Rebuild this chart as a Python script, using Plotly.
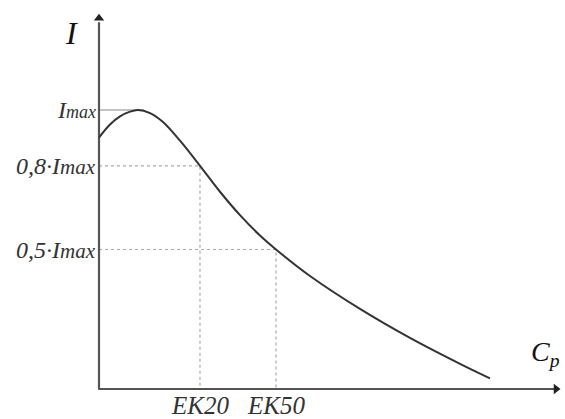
import plotly.graph_objects as go

# Curve data (x in arbitrary concentration units, y as fraction of Imax)
curve_x = [0.0, 0.11, 0.21, 0.31, 0.39, 0.51, 0.64, 0.81, 1.01, 1.21, 1.41, 1.61, 1.77, 2.11, 2.61, 3.11, 3.61, 3.91]
curve_y = [0.901, 0.948, 0.977, 0.994, 1.0, 0.989, 0.957, 0.890, 0.80, 0.707, 0.623, 0.550, 0.50, 0.405, 0.287, 0.183, 0.090, 0.038]

imax_x = 0.45
level_values = [1.0, 0.8, 0.5]
level_labels = ["I<span style='font-size:18px'>max</span>",
                "0,8·I<span style='font-size:21px'>max</span>",
                "0,5·I<span style='font-size:21px'>max</span>"]
ek_names = ["EK20", "EK50"]
ek_x = [1.01, 1.77]
ek_y = [0.8, 0.5]

W, H = 565, 419
x0_px, y0_px = 99, 389
xs, ys = 100.0, 279.0
x_range = [-x0_px / xs, (W - x0_px) / xs]
y_range = [-(H - y0_px) / ys, y0_px / ys]
x_end = (560 - x0_px) / xs
y_end = (y0_px - 14) / ys

FONT = "Liberation Serif, Times New Roman, serif"
axis_col = "#555555"
dot_col = "#aaaaaa"

fig = go.Figure()

# dotted guides
for ex, ey in zip(ek_x, ek_y):
    fig.add_trace(go.Scatter(x=[0, ex, ex], y=[ey, ey, 0], mode="lines",
                             line=dict(color=dot_col, width=1.2, dash="dot"),
                             hoverinfo="skip", showlegend=False))
# Imax line
fig.add_trace(go.Scatter(x=[0, imax_x], y=[1.0, 1.0], mode="lines",
                         line=dict(color="#888888", width=1.2),
                         hoverinfo="skip", showlegend=False))
# axes
fig.add_trace(go.Scatter(x=[0, x_end - 0.06], y=[0, 0], mode="lines",
                         line=dict(color=axis_col, width=2.2),
                         hoverinfo="skip", showlegend=False))
fig.add_trace(go.Scatter(x=[0, 0], y=[-0.003, y_end - 0.03], mode="lines",
                         line=dict(color=axis_col, width=2.2),
                         hoverinfo="skip", showlegend=False))
fig.add_trace(go.Scatter(x=[x_end - 0.04], y=[0], mode="markers",
                         marker=dict(symbol="triangle-right", size=9, color="#222222"),
                         hoverinfo="skip", showlegend=False))
fig.add_trace(go.Scatter(x=[0], y=[y_end - 0.015], mode="markers",
                         marker=dict(symbol="triangle-up", size=9, color="#222222"),
                         hoverinfo="skip", showlegend=False))
# curve
fig.add_trace(go.Scatter(x=curve_x, y=curve_y, mode="lines",
                         line=dict(color="#333333", width=2, shape="spline", smoothing=1.0),
                         hoverinfo="skip", showlegend=False))

annotations = []
annotations.append(dict(x=(71 - x0_px) / xs, y=(y0_px - 33) / ys, xref="x", yref="y",
                        text="<i>I</i>", showarrow=False,
                        font=dict(family=FONT, size=32, color="#111111")))
annotations.append(dict(x=(529 - x0_px) / xs, y=(y0_px - 353) / ys, xref="x", yref="y",
                        xanchor="left", text="<i>C<sub>p</sub></i>", showarrow=False,
                        font=dict(family=FONT, size=28, color="#111111")))
for v, lab in zip(level_values, level_labels):
    annotations.append(dict(x=-0.015, y=v, xref="x", yref="y", xanchor="right",
                            text="<i>" + lab + "</i>", showarrow=False,
                            font=dict(family=FONT, size=24, color="#333333")))
for n, ex in zip(ek_names, ek_x):
    annotations.append(dict(x=ex, y=(y0_px - 405) / ys, xref="x", yref="y",
                            text="<i>" + n + "</i>", showarrow=False,
                            font=dict(family=FONT, size=25, color="#333333")))

fig.update_layout(
    width=W, height=H, margin=dict(l=0, r=0, t=0, b=0),
    paper_bgcolor="white", plot_bgcolor="white",
    xaxis=dict(range=x_range, visible=False, fixedrange=True),
    yaxis=dict(range=y_range, visible=False, fixedrange=True),
    annotations=annotations, showlegend=False,
)

fig.write_html("out.html")
